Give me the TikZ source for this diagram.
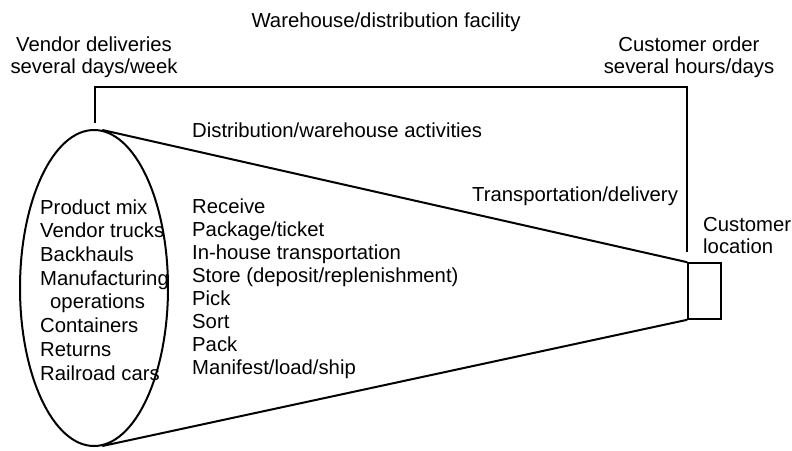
\documentclass[tikz,border=0pt]{standalone}
\usepackage{fontspec}
\setmainfont{Liberation Sans}
\usetikzlibrary{shapes.geometric}
\begin{document}
\begin{tikzpicture}[x=1pt,y=-1pt,
  lbl/.style={inner sep=0pt,font=\fontsize{20.3}{21.5}\selectfont,align=center},
  lst/.style={inner sep=0pt,align=left,anchor=base west},
  heavy/.style={line width=2pt},
  frame/.style={line width=1.5pt}]
\useasboundingbox (0,0) rectangle (792,450);
% source ellipse and customer box
\node[ellipse,draw,heavy,minimum width=148pt,minimum height=316pt,inner sep=0pt] (src) at (94,288) {};
\node[rectangle,draw,line width=1.6pt,minimum width=33pt,minimum height=56pt,inner sep=0pt] (cust) at (704.5,291) {};
% cone
\draw[heavy] (src.87) -- (cust.north west);
\draw[heavy] (src.-87) -- (cust.south west);
% facility bracket
\coordinate (bl) at (95,123);
\coordinate (tl) at (95,87);
\coordinate (tr) at (687,87);
\coordinate (br) at (687,252);
\draw[frame] (bl) -- (tl) -- (tr) -- (br);
% labels (multi-line nodes: base anchor is the last line's baseline)
\node[lbl,anchor=base] (fac) at (386,27) {Warehouse/distribution facility};
\node[lbl,anchor=base] (vend) at (94,73) {Vendor deliveries\\several days/week};
\node[lbl,anchor=base] (order) at (689,73) {Customer order\\several hours/days};
\node[lbl,anchor=base west] (act) at (192,137) {Distribution/warehouse activities};
\node[lbl,anchor=base west] (trans) at (472,201) {Transportation/delivery};
\node[lbl,anchor=base west,align=left] (loc) at (703,253) {Customer\\location};
% lists
\node[lst,font=\fontsize{20.3}{23.7}\selectfont] (inputs) at (40,380) {Product mix\\Vendor trucks\\Backhauls\\Manufacturing\\\hspace{10pt}operations\\Containers\\Returns\\Railroad cars};
\node[lst,font=\fontsize{20.3}{23}\selectfont] (acts) at (192,374) {Receive\\Package/ticket\\In-house transportation\\Store (deposit/replenishment)\\Pick\\Sort\\Pack\\Manifest/load/ship};
\end{tikzpicture}
\end{document}
